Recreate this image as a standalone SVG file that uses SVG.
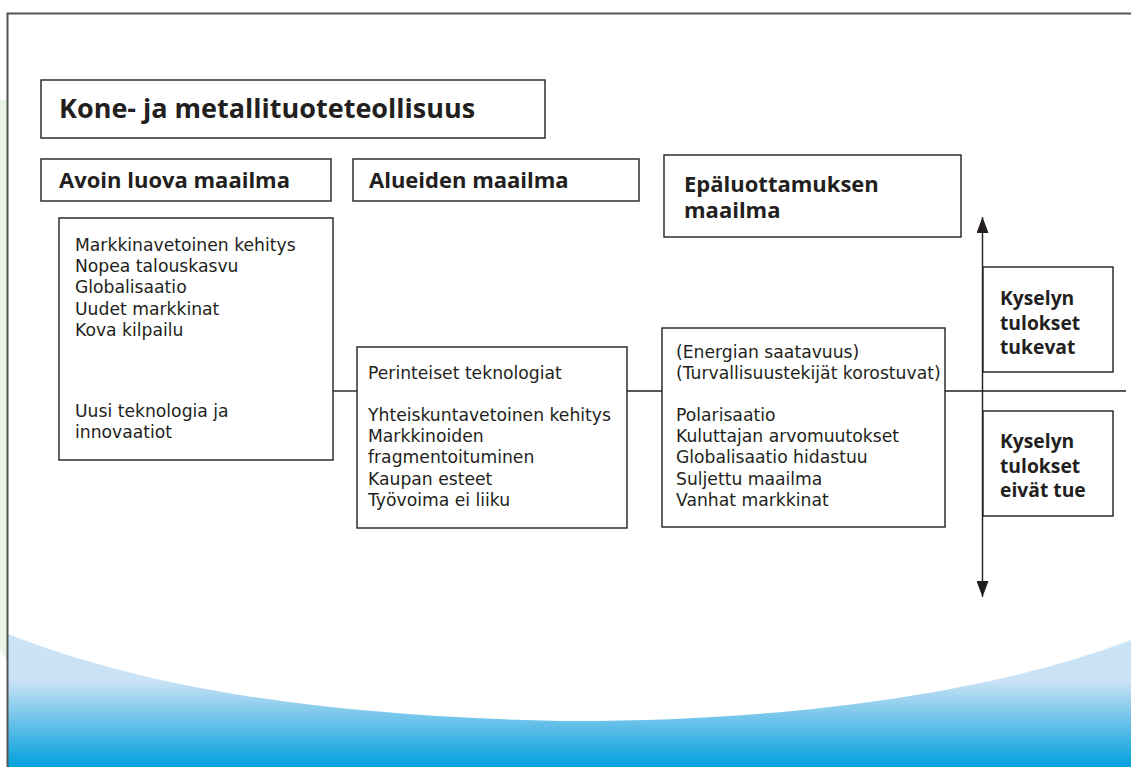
<svg xmlns="http://www.w3.org/2000/svg" width="1131" height="767" viewBox="0 0 1131 767">
<defs>
<linearGradient id="wave" x1="0" y1="0" x2="0" y2="1" gradientUnits="objectBoundingBox">
<stop offset="0" stop-color="#cbe3f5"/>
<stop offset="0.35" stop-color="#c9e2f5"/>
<stop offset="1" stop-color="#00a0dd"/>
</linearGradient>
<marker id="arr" viewBox="0 0 16 12" refX="16" refY="6" markerWidth="16" markerHeight="12" markerUnits="userSpaceOnUse" orient="auto-start-reverse">
<path d="M0,0 L16,6 L0,12 Z" fill="#231f20"/>
</marker>
<style>
.box{fill:#fff;stroke:#231f20;stroke-width:1.4}
.t{font-family:"DejaVu Sans","Open Sans","Liberation Sans",sans-serif;font-size:17.2px;fill:#231f20}
.h{font-family:"Open Sans","Noto Sans","Liberation Sans",sans-serif;font-weight:bold;font-size:22px;fill:#231f20}
.k{font-family:"Open Sans","Noto Sans","Liberation Sans",sans-serif;font-weight:bold;font-size:19.3px;fill:#231f20}
.ln{stroke:#231f20;stroke-width:1.4;fill:none}
</style>
</defs>
<rect width="1131" height="767" fill="#fff"/>
<path d="M0,100 L7,100 L7,660 L0,650 Z" fill="#eaf4e6"/>
<path d="M8,634 C150,690 330,716 560,721 C800,722 1000,690 1131,640 L1131,767 L8,767 Z" fill="url(#wave)"/>
<path d="M7.5,767 L7.5,13.5 L1131,13.5" fill="none" stroke="#555" stroke-width="2"/>

<g id="connectors">
<line class="ln" x1="333" y1="391" x2="357" y2="391"/>
<line class="ln" x1="627" y1="391" x2="662" y2="391"/>
<line class="ln" x1="945" y1="391" x2="1126" y2="391"/>
<line class="ln" x1="982.5" y1="217" x2="982.5" y2="597" marker-start="url(#arr)" marker-end="url(#arr)"/>
</g>

<g id="title">
<rect class="box" x="41" y="80" width="504" height="58"/>
<text class="h" x="59" y="118" style="font-size:27px">Kone- ja metallituoteteollisuus</text>
</g>
<g id="avoin">
<rect class="box" x="41" y="159" width="290" height="42"/>
<text class="h" x="59" y="188">Avoin luova maailma</text>
</g>
<g id="alueiden">
<rect class="box" x="353" y="159" width="286" height="42"/>
<text class="h" x="369" y="188">Alueiden maailma</text>
</g>
<g id="epaluottamuksen">
<rect class="box" x="664" y="155" width="297" height="82"/>
<text class="h" x="684" y="192">Epäluottamuksen</text>
<text class="h" x="684" y="218">maailma</text>
</g>
<g id="box1">
<rect class="box" x="59" y="218" width="274" height="242"/>
<text class="t" x="75" y="251">Markkinavetoinen kehitys</text>
<text class="t" x="75" y="272">Nopea talouskasvu</text>
<text class="t" x="75" y="293">Globalisaatio</text>
<text class="t" x="75" y="315">Uudet markkinat</text>
<text class="t" x="75" y="336">Kova kilpailu</text>
<text class="t" x="75" y="417">Uusi teknologia ja</text>
<text class="t" x="75" y="438">innovaatiot</text>
</g>
<g id="box2">
<rect class="box" x="357" y="347" width="270" height="181"/>
<text class="t" x="368" y="379">Perinteiset teknologiat</text>
<text class="t" x="368" y="421">Yhteiskuntavetoinen kehitys</text>
<text class="t" x="368" y="442">Markkinoiden</text>
<text class="t" x="368" y="463">fragmentoituminen</text>
<text class="t" x="368" y="485">Kaupan esteet</text>
<text class="t" x="368" y="506">Työvoima ei liiku</text>
</g>
<g id="box3">
<rect class="box" x="662" y="328" width="283" height="199"/>
<text class="t" x="676" y="358">(Energian saatavuus)</text>
<text class="t" x="676" y="379">(Turvallisuustekijät korostuvat)</text>
<text class="t" x="676" y="421">Polarisaatio</text>
<text class="t" x="676" y="442">Kuluttajan arvomuutokset</text>
<text class="t" x="676" y="463">Globalisaatio hidastuu</text>
<text class="t" x="676" y="485">Suljettu maailma</text>
<text class="t" x="676" y="506">Vanhat markkinat</text>
</g>
<g id="tukevat">
<rect class="box" x="983" y="267" width="130" height="105"/>
<text class="k" x="1000" y="305">Kyselyn</text>
<text class="k" x="1000" y="330">tulokset</text>
<text class="k" x="1000" y="354">tukevat</text>
</g>
<g id="eivat">
<rect class="box" x="983" y="411" width="130" height="105"/>
<text class="k" x="1000" y="448">Kyselyn</text>
<text class="k" x="1000" y="473">tulokset</text>
<text class="k" x="1000" y="497">eivät tue</text>
</g>
</svg>
